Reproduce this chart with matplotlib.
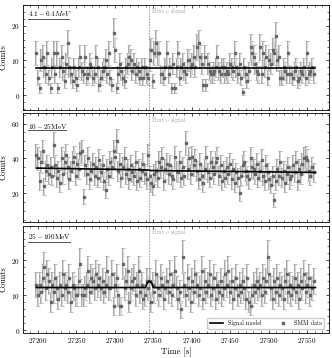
import numpy as np
import matplotlib
matplotlib.use("Agg")
import matplotlib.pyplot as plt
from matplotlib.ticker import MultipleLocator

plt.rcParams['font.family'] = 'serif'
plt.rcParams['font.serif'] = ['cmr10']
plt.rcParams['mathtext.fontset'] = 'cm'
plt.rcParams['axes.formatter.use_mathtext'] = True

# time bins (SMM 2.048 s bins)
t_start = 27198.0
t_bin = 2.048
t_signal = 27344.0

# counts per bin
counts_low = [12, 5, 2, 10, 11, 8, 6, 12, 5, 2, 8, 12, 6, 12, 2, 8, 11, 7, 4, 9,
              15, 8, 6, 4, 8, 5, 3, 8, 11, 7, 6, 11, 5, 6, 9, 8, 5, 6, 11, 8,
              3, 5, 7, 8, 10, 6, 12, 5, 3, 18, 13, 2, 6, 9, 7, 5, 4, 8, 9, 11,
              10, 7, 9, 6, 8, 7, 5, 8, 5, 8, 6, 5,
              10, 13, 4, 12, 15, 12, 12, 6, 6, 5, 8, 12, 6, 8, 2, 9, 2, 8, 12, 5,
              8, 9, 7, 6, 10, 10, 8, 9, 11, 8, 14, 15, 11, 9, 3, 11, 3, 9, 7, 6,
              6, 7, 8, 11, 7, 6, 8, 8, 6, 7, 6, 9, 8, 7, 12, 8, 6, 9, 5, 1,
              8, 6, 4, 7, 14, 12, 11, 9, 7, 6, 14, 6, 12, 8, 11, 5, 10, 9, 13, 12,
              17, 10, 11, 5, 5, 8, 7, 6, 12, 6, 6, 5, 7, 8, 4, 5, 7, 6, 8, 5,
              12, 6, 7, 8, 6]
counts_mid = [42, 40, 27, 38, 44, 24, 33, 36, 31, 35, 30, 48, 36, 29, 33, 26, 40, 31, 38, 42,
              35, 28, 33, 38, 41, 30, 37, 34, 43, 44, 18, 36, 31, 40, 28, 33, 37, 30, 35, 29,
              39, 32, 36, 27, 22, 34, 30, 38, 35, 44, 41, 50, 33, 37, 29, 35, 40, 31, 34, 28,
              36, 32, 30, 38, 27, 34, 29, 33, 37, 31, 28, 42,
              30, 26, 24, 31, 33, 29, 38, 35, 40, 27, 34, 37, 31, 36, 30, 28, 41, 33, 32, 38,
              29, 35, 30, 49, 34, 40, 31, 41, 36, 39, 33, 28, 37, 30, 26, 34, 41, 32, 29, 38,
              35, 31, 38, 40, 30, 36, 27, 33, 29, 35, 31, 37, 28, 34, 26, 32, 29, 20, 30, 36,
              38, 33, 30, 28, 40, 35, 34, 31, 37, 29, 33, 39, 30, 27, 36, 32, 28, 25, 30, 16,
              27, 34, 30, 38, 29, 33, 26, 31, 35, 28, 30, 36, 32, 38, 27, 34, 31, 37, 40, 41,
              39, 33, 30, 35, 32]
counts_high = [13, 10, 13, 11, 15, 18, 12, 16, 14, 8, 13, 11, 15, 12, 9, 13, 10, 16, 12, 13,
               11, 15, 8, 13, 12, 10, 10, 14, 19, 10, 10, 12, 13, 17, 11, 15, 14, 12, 16, 13,
               15, 12, 14, 11, 13, 17, 12, 12, 16, 7, 13, 15, 10, 7, 7, 19, 12, 14, 17, 8,
               12, 14, 15, 10, 13, 17, 11, 13, 9, 10, 14, 12,
               14, 8, 13, 11, 16, 12, 10, 15, 13, 9, 12, 14, 11, 16, 10, 13, 17, 12, 9, 11,
               6, 21, 13, 10, 15, 12, 8, 14, 11, 16, 13, 10, 12, 17, 9, 14, 11, 13, 16, 10,
               12, 15, 9, 13, 11, 14, 10, 12, 16, 13, 17, 11, 14, 9, 12, 15, 10, 13, 11, 14,
               12, 9, 15, 8, 7, 10, 13, 11, 14, 12, 13, 10, 15, 11, 14, 21, 16, 12, 9, 14,
               11, 15, 10, 13, 12, 9, 14, 16, 11, 13, 10, 12, 15, 11, 13, 9, 14, 12, 16, 11,
               13, 15, 10, 12, 14]

# signal model knots
model_low_t = [27198, 27561]
model_low_y = [7.7, 7.7]
model_mid_t = [27198, 27344, 27346, 27561]
model_mid_y = [34.5, 33.4, 33.1, 32.0]
model_high_t = [27198, 27340, 27342, 27345, 27348, 27350, 27561]
model_high_y = [12.2, 12.2, 13.5, 14.0, 13.5, 12.2, 12.2]

labels = [r'$4.1-6.4MeV$', r'$10-25\mathrm{MeV}$', r'$25-100\mathrm{MeV}$']
ylims = [(-4.3, 26), (3.6, 66), (-0.7, 29.8)]
yticks = [[0, 10, 20], [20, 40, 60], [0, 10, 20]]
yminor = [2, 5, 2]
label_y = [0.915, 0.88, 0.895]
line_y = [0.865, 0.842, 0.85]
line_x1 = [0.152, 0.14, 0.155]

fig = plt.figure(figsize=(3.32, 3.58), dpi=100)
boxes = [[0.069, 0.693, 0.922, 0.293],
         [0.069, 0.380, 0.922, 0.304],
         [0.069, 0.070, 0.922, 0.300]]

all_counts = [counts_low, counts_mid, counts_high]
models = [(model_low_t, model_low_y), (model_mid_t, model_mid_y), (model_high_t, model_high_y)]

for k in range(3):
    ax = fig.add_axes(boxes[k])
    c = np.array(all_counts[k], dtype=float)
    t = t_start + t_bin * np.arange(len(c))
    err = np.sqrt(c)
    # outline of the error bars, then the light fill and the points
    ax.errorbar(t, c, yerr=err, fmt='none', ecolor='#a8a8a8', elinewidth=1.4,
                capsize=1.1, capthick=0.6, zorder=1.5)
    ax.errorbar(t, c, yerr=err, fmt='s', ms=1.8, color='#666666',
                ecolor='#dedede', elinewidth=0.6, capsize=0,
                label='SMM data', zorder=2)
    ax.plot(models[k][0], models[k][1], color='black', lw=1.2, label='Signal model', zorder=3)
    ax.axvline(t_signal, color='#888888', ls=(0, (2, 1.5)), lw=0.6, zorder=1)
    ax.text(t_signal + 2.5, ylims[k][1] - 0.06 * (ylims[k][1] - ylims[k][0]),
            r'First $\nu$ signal', fontsize=4.3, color='#a0a0a0', va='center')
    ax.text(0.017, label_y[k], labels[k], transform=ax.transAxes, fontsize=5.2, va='center')
    ax.plot([0.017, line_x1[k]], [line_y[k], line_y[k]],
            transform=ax.transAxes, color='#555555', lw=0.7)

    ax.set_xlim(27180.5, 27578.6)
    ax.set_ylim(*ylims[k])
    ax.set_yticks(yticks[k])
    ax.xaxis.set_major_locator(MultipleLocator(50))
    ax.xaxis.set_minor_locator(MultipleLocator(10))
    ax.yaxis.set_minor_locator(MultipleLocator(yminor[k]))
    ax.tick_params(which='both', direction='in', top=True, right=True, labelsize=5.2, pad=2)
    ax.tick_params(which='major', length=2.5, width=0.5)
    ax.tick_params(which='minor', length=1.3, width=0.4)
    for s in ax.spines.values():
        s.set_linewidth(0.6)
    ax.set_ylabel('Counts', fontsize=6, labelpad=3)
    if k < 2:
        ax.set_xticklabels([])
    else:
        ax.set_xlabel('Time [s]', fontsize=6.2, labelpad=2)
        h, l = ax.get_legend_handles_labels()
        order = [l.index('Signal model'), l.index('SMM data')]
        ax.legend([h[i] for i in order], [l[i] for i in order], loc='lower right', ncol=2,
                  fontsize=4.3, frameon=True, framealpha=1, edgecolor='#cccccc',
                  handlelength=2.2, borderpad=0.4, columnspacing=2.5, handletextpad=0.8,
                  bbox_to_anchor=(0.995, 0.01))

fig.savefig('out.png', dpi=100)
